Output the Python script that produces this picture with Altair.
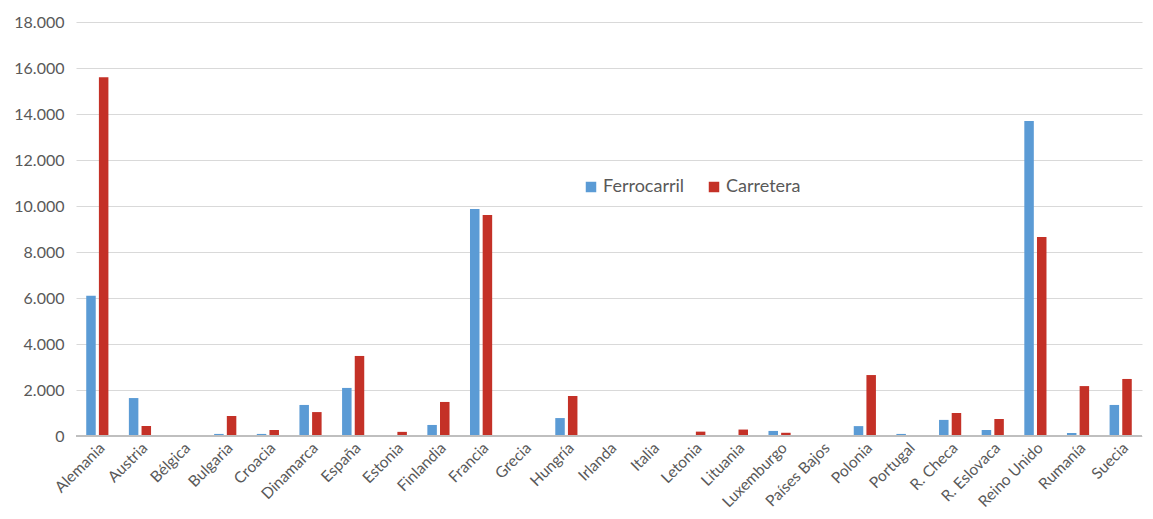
import altair as alt
import pandas as pd

paises = ["Alemania", "Austria", "Bélgica", "Bulgaria", "Croacia", "Dinamarca", "España",
          "Estonia", "Finlandia", "Francia", "Grecia", "Hungría", "Irlanda", "Italia",
          "Letonia", "Lituania", "Luxemburgo", "Países Bajos", "Polonia", "Portugal",
          "R. Checa", "R. Eslovaca", "Reino Unido", "Rumanía", "Suecia"]
ferrocarril = [6100, 1650, 0, 90, 90, 1350, 2090, 0, 480, 9870, 0, 780, 0, 0,
               0, 40, 220, 0, 430, 90, 700, 260, 13700, 130, 1350]
carretera = [15600, 430, 0, 870, 260, 1040, 3480, 180, 1480, 9610, 0, 1740, 0, 0,
             190, 280, 140, 0, 2650, 0, 1000, 740, 8650, 2170, 2480]
series = ["Ferrocarril", "Carretera"]
colores = ["#5B9BD5", "#C43127"]
y_ticks = [0, 2000, 4000, 6000, 8000, 10000, 12000, 14000, 16000, 18000]

rows = []
for p, f, c in zip(paises, ferrocarril, carretera):
    rows.append({"pais": p, "serie": "Ferrocarril", "valor": f})
    rows.append({"pais": p, "serie": "Carretera", "valor": c})
df = pd.DataFrame(rows)

FONT = "Lato"
GRAY = "#595959"

bars = alt.Chart(df).mark_bar().encode(
    x=alt.X("pais:N", sort=paises, title=None,
            scale=alt.Scale(paddingInner=0.48, paddingOuter=0.24),
            axis=alt.Axis(labelAngle=-45, labelAlign="right", labelBaseline="top",
                          labelFontSize=15.5, labelColor=GRAY, labelFont=FONT,
                          ticks=False, domain=False, labelPadding=4, grid=False)),
    xOffset=alt.XOffset("serie:N", sort=series, scale=alt.Scale(paddingInner=0.25)),
    y=alt.Y("valor:Q", title=None,
            scale=alt.Scale(domain=[0, 18000], nice=False),
            axis=alt.Axis(values=y_ticks, ticks=False, domain=False,
                          labelExpr="replace(format(datum.value, ',d'), ',', '.')",
                          labelFontSize=16, labelColor=GRAY, labelFont=FONT,
                          labelPadding=12, gridColor="#D9D9D9", gridWidth=1)),
    color=alt.Color("serie:N", sort=series,
                    scale=alt.Scale(domain=series, range=colores),
                    legend=alt.Legend(title=None, orient="none", direction="horizontal",
                                      legendX=506, legendY=156, symbolType="square",
                                      symbolSize=110, symbolStrokeWidth=0,
                                      labelFontSize=18, labelColor=GRAY, labelFont=FONT,
                                      columnPadding=20, labelOffset=3)),
)

base_line = alt.Chart(pd.DataFrame({"v": [0]})).mark_rule(color="#BFBFBF", strokeWidth=2).encode(
    y="v:Q"
)

chart = alt.layer(bars, base_line).properties(
    width=1066, height=414,
    autosize=alt.AutoSizeParams(type="none"),
    padding={"left": 68, "top": 14, "right": 2, "bottom": 83},
).configure_view(stroke=None)

chart.save("out.html", embed_options={"renderer": "svg", "actions": False})
